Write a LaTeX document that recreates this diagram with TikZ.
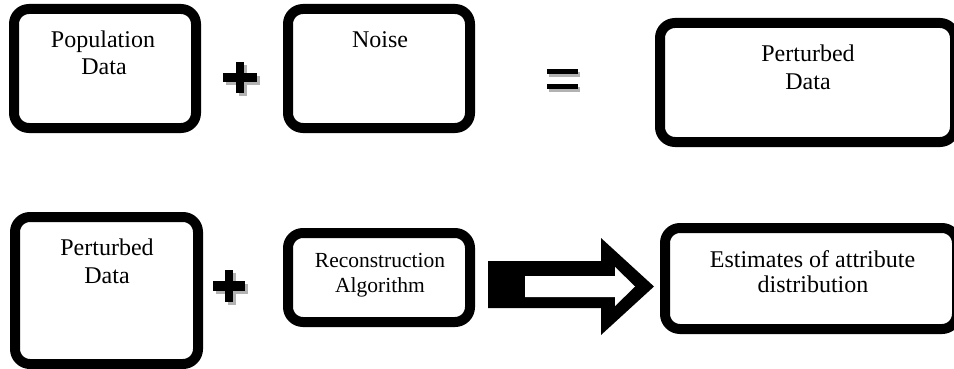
\documentclass[tikz,border=0pt]{standalone}
\usepackage{fontspec}
\setmainfont{Liberation Serif}
\begin{document}
\begin{tikzpicture}[x=1pt,y=-1pt,
  box/.style={draw=black, line width=10pt, rounded corners=15pt, rectangle, inner sep=0pt, fill=white},
  lbl/.style={anchor=base, inner sep=0pt, font=\fontsize{24}{27}\selectfont},
  slbl/.style={anchor=base, inner sep=0pt, font=\fontsize{21.5}{25}\selectfont},
  shadowc/.style={fill=black!30},
  symc/.style={fill=black}]
\useasboundingbox (0,0) rectangle (954,369);
% boxes
\node[box, minimum width=182pt, minimum height=119pt] (b1) at (105,68.5) {};
\node[box, minimum width=182pt, minimum height=119pt] (b2) at (379,68.5) {};
\node[box, minimum width=295pt, minimum height=119pt] (b3) at (807.5,82.5) {};
\node[box, minimum width=183pt, minimum height=147pt] (b4) at (106.5,290.5) {};
\node[box, minimum width=182pt, minimum height=89pt] (b5) at (379,277.5) {};
\node[box, minimum width=292pt, minimum height=101pt] (b6) at (811,278.5) {};
% labels
\node[lbl] (t1a) at (103,48) {Population};
\node[lbl] (t1b) at (104,75) {Data};
\node[lbl] (t2) at (380,48) {Noise};
\node[lbl] (t3a) at (808,62) {Perturbed};
\node[lbl] (t3b) at (808,89) {Data};
\node[lbl] (t4a) at (107,255) {Perturbed};
\node[lbl] (t4b) at (107,283) {Data};
\node[slbl] (t5a) at (380,267) {Reconstruction};
\node[slbl] (t5b) at (380,292) {Algorithm};
\node[lbl] (t6a) at (812.5,267) {Estimates of attribute};
\node[lbl] (t6b) at (813,292) {distribution};
% plus 1
\begin{scope}[shift={(3,3)}]
\fill[shadowc] (236,62) rectangle (244,93);
\fill[shadowc] (223,73) rectangle (257,82);
\end{scope}
\fill[symc] (236,62) rectangle (244,93);
\fill[symc] (223,73) rectangle (257,82);
% equals
\begin{scope}[shift={(2,3)}]
\fill[shadowc] (547,69) rectangle (578,74);
\fill[shadowc] (547,84) rectangle (578,89);
\end{scope}
\fill[symc] (547,69) rectangle (578,74);
\fill[symc] (547,84) rectangle (578,89);
% plus 2
\begin{scope}[shift={(3,3)}]
\fill[shadowc] (225,270) rectangle (233,302);
\fill[shadowc] (213,281) rectangle (245,291);
\end{scope}
\fill[symc] (225,270) rectangle (233,302);
\fill[symc] (213,281) rectangle (245,291);
% block arrow
\fill[black] (488,261) -- (601,261) -- (601,238) -- (654,286.5) -- (601,335) -- (601,308) -- (488,308) -- cycle;
\fill[white] (525,276) -- (615,276) -- (615,267) -- (635,286.5) -- (615,306) -- (615,297) -- (525,297) -- cycle;
\end{tikzpicture}
\end{document}
